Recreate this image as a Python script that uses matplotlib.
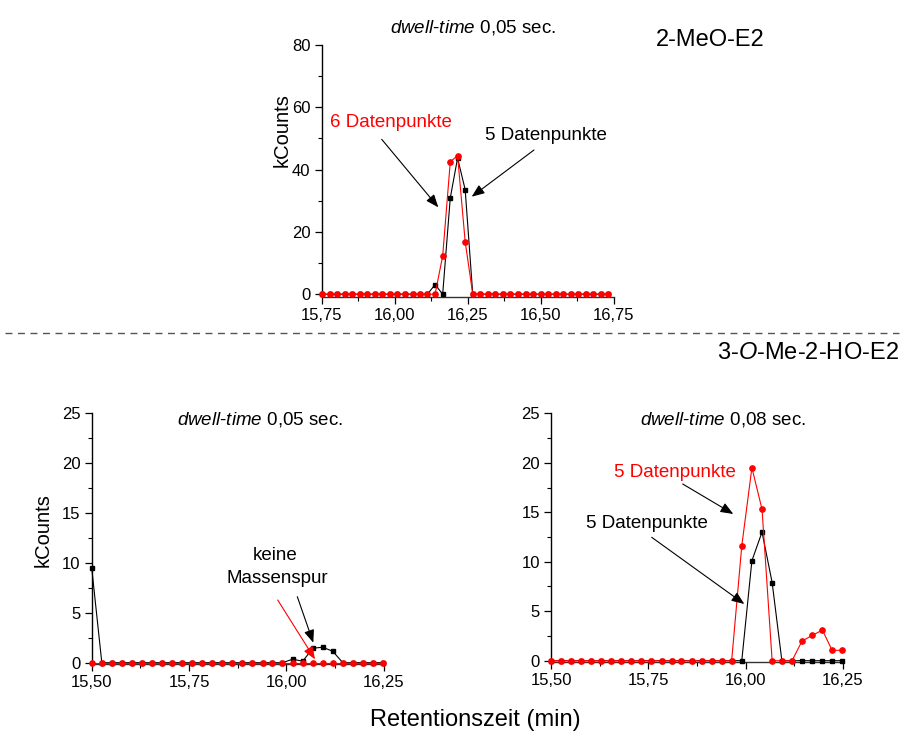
import matplotlib
matplotlib.use("Agg")
import matplotlib.pyplot as plt
from matplotlib.ticker import FuncFormatter, MultipleLocator
from matplotlib.patches import FancyArrowPatch
from matplotlib.lines import Line2D

plt.rcParams["font.family"] = ["Liberation Sans", "DejaVu Sans"]
plt.rcParams["mathtext.fontset"] = "custom"
plt.rcParams["mathtext.rm"] = "Liberation Sans"
plt.rcParams["mathtext.it"] = "Liberation Sans:italic"

W, H = 902, 731

# retention times (min)
t_top = [15.752, 15.778, 15.804, 15.829, 15.855, 15.881, 15.907, 15.933, 15.958, 15.984,
         16.010, 16.036, 16.062, 16.087, 16.113, 16.139, 16.165, 16.191, 16.216, 16.242,
         16.268, 16.294, 16.320, 16.345, 16.371, 16.397, 16.423, 16.449, 16.474, 16.500,
         16.526, 16.552, 16.578, 16.603, 16.629, 16.655, 16.681, 16.707, 16.732]
t_bot = [15.500, 15.526, 15.552, 15.577, 15.603, 15.629, 15.655, 15.681, 15.706, 15.732,
         15.758, 15.784, 15.810, 15.835, 15.861, 15.887, 15.913, 15.939, 15.964, 15.990,
         16.016, 16.042, 16.068, 16.093, 16.119, 16.145, 16.171, 16.197, 16.222, 16.248]

# 2-MeO-E2, dwell-time 0.05 s (kCounts)
meo_black = [0, 0, 0, 0, 0, 0, 0, 0, 0, 0, 0, 0, 0, 0, 0, 3.1, 0, 30.9, 43.7, 33.6,
             0, 0, 0, 0, 0, 0, 0, 0, 0, 0, 0, 0, 0, 0, 0, 0, 0, 0, 0]
meo_red = [0, 0, 0, 0, 0, 0, 0, 0, 0, 0, 0, 0, 0, 0, 0, 0, 12.3, 42.5, 44.5, 16.9,
           0, 0, 0, 0, 0, 0, 0, 0, 0, 0, 0, 0, 0, 0, 0, 0, 0, 0, 0]

# 3-O-Me-2-HO-E2, dwell-time 0.05 s
ho05_black = [9.5, 0, 0, 0, 0, 0, 0, 0, 0, 0, 0, 0, 0, 0, 0, 0, 0, 0, 0, 0,
              0.35, 0.15, 1.45, 1.55, 1.15, 0, 0, 0, 0, 0]
ho05_red = [0] * 30

# 3-O-Me-2-HO-E2, dwell-time 0.08 s
ho08_black = [0, 0, 0, 0, 0, 0, 0, 0, 0, 0, 0, 0, 0, 0, 0, 0, 0, 0, 0, 0,
              10.1, 13.0, 7.9, 0, 0, 0, 0, 0, 0, 0]
ho08_red = [0, 0, 0, 0, 0, 0, 0, 0, 0, 0, 0, 0, 0, 0, 0, 0, 0, 0, 0, 11.6,
            19.5, 15.3, 0, 0, 0, 2.0, 2.55, 3.1, 1.05, 1.05]


def fp(x, y):
    """pixel position (from top-left) -> figure fraction"""
    return x / W, 1 - y / H


def comma(v, pos):
    return f"{v:.2f}".replace(".", ",")


fig = plt.figure(figsize=(W / 100, H / 100), dpi=100)


def make_axes(left, top, right, bottom, xlim, ylim, xmaj, ymaj):
    x0, y1 = fp(left, top)
    x1, y0 = fp(right, bottom)
    ax = fig.add_axes([x0, y0, x1 - x0, y1 - y0])
    ax.set_xlim(*xlim)
    ax.set_ylim(*ylim)
    for s in ("top", "right"):
        ax.spines[s].set_visible(False)
    ax.spines["left"].set_linewidth(1.0)
    ax.spines["bottom"].set_linewidth(1.0)
    ax.spines["bottom"].set_color("#333333")
    ax.xaxis.set_major_locator(MultipleLocator(xmaj))
    ax.xaxis.set_minor_locator(MultipleLocator(xmaj / 2))
    ax.yaxis.set_major_locator(MultipleLocator(ymaj))
    ax.yaxis.set_minor_locator(MultipleLocator(ymaj / 2))
    ax.xaxis.set_major_formatter(FuncFormatter(comma))
    ax.tick_params(which="major", direction="out", length=5, width=0.9,
                   labelsize=12, pad=3)
    ax.tick_params(which="minor", direction="out", length=3, width=0.8)
    ax.patch.set_visible(False)
    return ax


def traces(ax, t, black, red):
    ax.plot(t, black, color="black", lw=0.8, marker="s", ms=3.0, clip_on=False, zorder=3)
    ax.plot(t, red, color="red", lw=0.8, marker="o", ms=3.8, clip_on=False, zorder=4)


def arrow(tail, head, color="black"):
    p = FancyArrowPatch(fp(*tail), fp(*head), transform=fig.transFigure,
                        arrowstyle="-|>,head_length=0.55,head_width=0.22",
                        mutation_scale=14, color=color, lw=0.8,
                        shrinkA=0, shrinkB=0)
    fig.add_artist(p)


def label(x, y, s, size=13.5, color="black", ha="left", **kw):
    fig.text(*fp(x, y), s, fontsize=size, color=color, ha=ha, va="baseline", **kw)


# top panel: 2-MeO-E2
ax1 = make_axes(321.5, 45, 613.5, 296.7, (15.75, 16.75), (-0.8, 80), 0.25, 20)
traces(ax1, t_top, meo_black, meo_red)
label(473, 32.3, r"$\mathit{dwell}$-$\mathit{time}$ 0,05 sec.", ha="center")
label(656, 46, "2-MeO-E2", size=17)
fig.text(*fp(282, 130), "kCounts", fontsize=14.5, rotation=90, ha="center", va="center")
label(330, 126.7, "6 Datenpunkte", color="red")
label(485, 140, "5 Datenpunkte")
arrow((381.7, 139.3), (438.3, 207.3))
arrow((534, 150), (471.7, 196.7))

# separator between the two compounds
fig.add_artist(Line2D([5 / W, 899 / W], [1 - 333.3 / H] * 2, transform=fig.transFigure,
                      color="#555555", lw=1.0, linestyle=(0, (5, 4))))
label(899, 359.3, r"3-$\mathit{O}$-Me-2-HO-E2", size=17, ha="right")

# bottom left: dwell-time 0.05 s
ax2 = make_axes(91.7, 413.3, 383.7, 664, (15.5, 16.25), (-0.13, 25), 0.25, 5)
traces(ax2, t_bot, ho05_black, ho05_red)
label(260, 424.3, r"$\mathit{dwell}$-$\mathit{time}$ 0,05 sec.", ha="center")
fig.text(*fp(43.5, 529.7), "kCounts", fontsize=14.5, rotation=90, ha="center", va="center")
label(275, 560, "keine", ha="center")
label(277.8, 582.7, "Massenspur", ha="center")
arrow((297.3, 596.7), (313.3, 642.7))
arrow((277.7, 600), (315, 659.3), color="red")

# bottom right: dwell-time 0.08 s
ax3 = make_axes(551, 413.3, 843, 661.5, (15.5, 16.25), (-0.08, 25), 0.25, 5)
traces(ax3, t_bot, ho08_black, ho08_red)
label(723.3, 424.3, r"$\mathit{dwell}$-$\mathit{time}$ 0,08 sec.", ha="center")
label(614.3, 476.7, "5 Datenpunkte", color="red")
arrow((682.7, 484), (733.3, 514))
label(586, 527.7, "5 Datenpunkte")
arrow((651.7, 537.3), (744.3, 604))

label(475.5, 726, "Retentionszeit (min)", size=17, ha="center")

fig.savefig("out.png", dpi=100)
